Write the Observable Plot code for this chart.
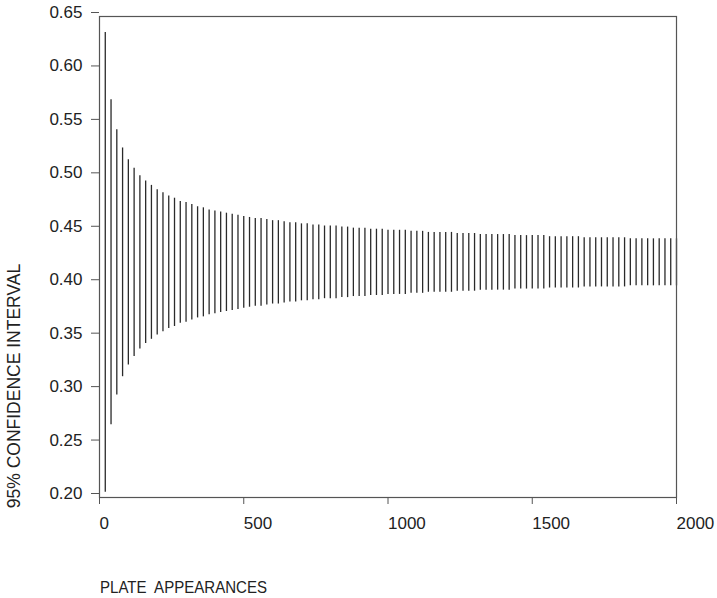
<!DOCTYPE html>
<html>
<head>
<meta charset="utf-8">
<script src="https://cdn.jsdelivr.net/npm/d3@7"></script>
<script src="https://cdn.jsdelivr.net/npm/@observablehq/plot@0.6"></script>
<style>
  html, body { margin: 0; padding: 0; background: #fff; }
  #chart { width: 717px; height: 598px; }
</style>
</head>
<body>
<div id="chart"></div>
<script>
// Plate appearances (x) for each interval bar
const plateAppearances = [
  20, 40, 60, 80, 100, 120, 140, 160, 180, 200,
  220, 240, 260, 280, 300, 320, 340, 360, 380, 400,
  420, 440, 460, 480, 500, 520, 540, 560, 580, 600,
  620, 640, 660, 680, 700, 720, 740, 760, 780, 800,
  820, 840, 860, 880, 900, 920, 940, 960, 980, 1000,
  1020, 1040, 1060, 1080, 1100, 1120, 1140, 1160, 1180, 1200,
  1220, 1240, 1260, 1280, 1300, 1320, 1340, 1360, 1380, 1400,
  1420, 1440, 1460, 1480, 1500, 1520, 1540, 1560, 1580, 1600,
  1620, 1640, 1660, 1680, 1700, 1720, 1740, 1760, 1780, 1800,
  1820, 1840, 1860, 1880, 1900, 1920, 1940, 1960, 1980, 2000
];
// Upper bound of 95% confidence interval
const upper = [
  0.635, 0.572, 0.544, 0.527, 0.516, 0.508, 0.501, 0.496, 0.492, 0.488,
  0.485, 0.482, 0.480, 0.477, 0.476, 0.474, 0.472, 0.471, 0.469, 0.468,
  0.467, 0.466, 0.465, 0.464, 0.463, 0.462, 0.461, 0.461, 0.460, 0.459,
  0.459, 0.458, 0.457, 0.457, 0.456, 0.456, 0.455, 0.455, 0.454, 0.454,
  0.454, 0.453, 0.453, 0.452, 0.452, 0.452, 0.451, 0.451, 0.451, 0.450,
  0.450, 0.450, 0.450, 0.449, 0.449, 0.449, 0.448, 0.448, 0.448, 0.448,
  0.448, 0.447, 0.447, 0.447, 0.447, 0.446, 0.446, 0.446, 0.446, 0.446,
  0.446, 0.445, 0.445, 0.445, 0.445, 0.445, 0.445, 0.444, 0.444, 0.444,
  0.444, 0.444, 0.444, 0.443, 0.443, 0.443, 0.443, 0.443, 0.443, 0.443,
  0.443, 0.442, 0.442, 0.442, 0.442, 0.442, 0.442, 0.442, 0.442, 0.442
];
// Lower bound of 95% confidence interval
const lower = [
  0.205, 0.268, 0.296, 0.313, 0.324, 0.332, 0.339, 0.344, 0.348, 0.352,
  0.355, 0.358, 0.360, 0.363, 0.364, 0.366, 0.368, 0.369, 0.371, 0.372,
  0.373, 0.374, 0.375, 0.376, 0.377, 0.378, 0.379, 0.379, 0.380, 0.381,
  0.381, 0.382, 0.383, 0.383, 0.384, 0.384, 0.385, 0.385, 0.386, 0.386,
  0.386, 0.387, 0.387, 0.388, 0.388, 0.388, 0.389, 0.389, 0.389, 0.390,
  0.390, 0.390, 0.390, 0.391, 0.391, 0.391, 0.392, 0.392, 0.392, 0.392,
  0.392, 0.393, 0.393, 0.393, 0.393, 0.394, 0.394, 0.394, 0.394, 0.394,
  0.394, 0.395, 0.395, 0.395, 0.395, 0.395, 0.395, 0.396, 0.396, 0.396,
  0.396, 0.396, 0.396, 0.397, 0.397, 0.397, 0.397, 0.397, 0.397, 0.397,
  0.397, 0.398, 0.398, 0.398, 0.398, 0.398, 0.398, 0.398, 0.398, 0.398
];
const xTicks = [0, 500, 1000, 1500, 2000];
const yTicks = [0.20, 0.25, 0.30, 0.35, 0.40, 0.45, 0.50, 0.55, 0.60, 0.65];
const xTitle = "PLATE  APPEARANCES";
const yTitle = "95% CONFIDENCE INTERVAL";

const data = plateAppearances.map((pa, i) => ({pa, lo: lower[i], hi: upper[i]}));

const W = 717, H = 598;
const mL = 99, mR = 41, mT = 16, mB = 101;
const font = "'Liberation Sans', Arial, Helvetica, sans-serif";

const chart = Plot.plot({
  width: W,
  height: H,
  marginLeft: mL,
  marginRight: mR,
  marginTop: mT,
  marginBottom: mB,
  style: {fontFamily: font, fontSize: "17px", background: "#fff", color: "#222"},
  x: {domain: [0, 2000], nice: false},
  y: {domain: [0.2, 0.65], nice: false},
  marks: [
    Plot.ruleX(data, {x: "pa", y1: "lo", y2: "hi", stroke: "#2a2a2a", strokeWidth: 1.3}),
    Plot.frame({stroke: "#555", strokeWidth: 1.2}),
    Plot.axisY({ticks: yTicks, tickFormat: d3.format(".2f"), tickSize: 8, tickPadding: 9, dy: -4,
                stroke: "#555", fill: "#222", label: null}),
    Plot.axisX({ticks: xTicks, tickFormat: d3.format("d"), tickSize: 7, tickPadding: 12,
                textAnchor: "start", stroke: "#555", fill: "#222", label: null})
  ]
});

const svg = d3.select(chart);
svg.append("text")
  .attr("x", 100)
  .attr("y", 593)
  .attr("text-anchor", "start")
  .attr("font-family", font)
  .attr("font-size", 17)
  .attr("fill", "#222")
  .attr("textLength", 167)
  .attr("lengthAdjust", "spacingAndGlyphs")
  .style("white-space", "pre")
  .text(xTitle);
svg.append("text")
  .attr("transform", "translate(20,386) rotate(-90)")
  .attr("text-anchor", "middle")
  .attr("font-family", font)
  .attr("font-size", 17.5)
  .attr("fill", "#222")
  .text(yTitle);

document.getElementById("chart").appendChild(chart);
</script>
</body>
</html>
